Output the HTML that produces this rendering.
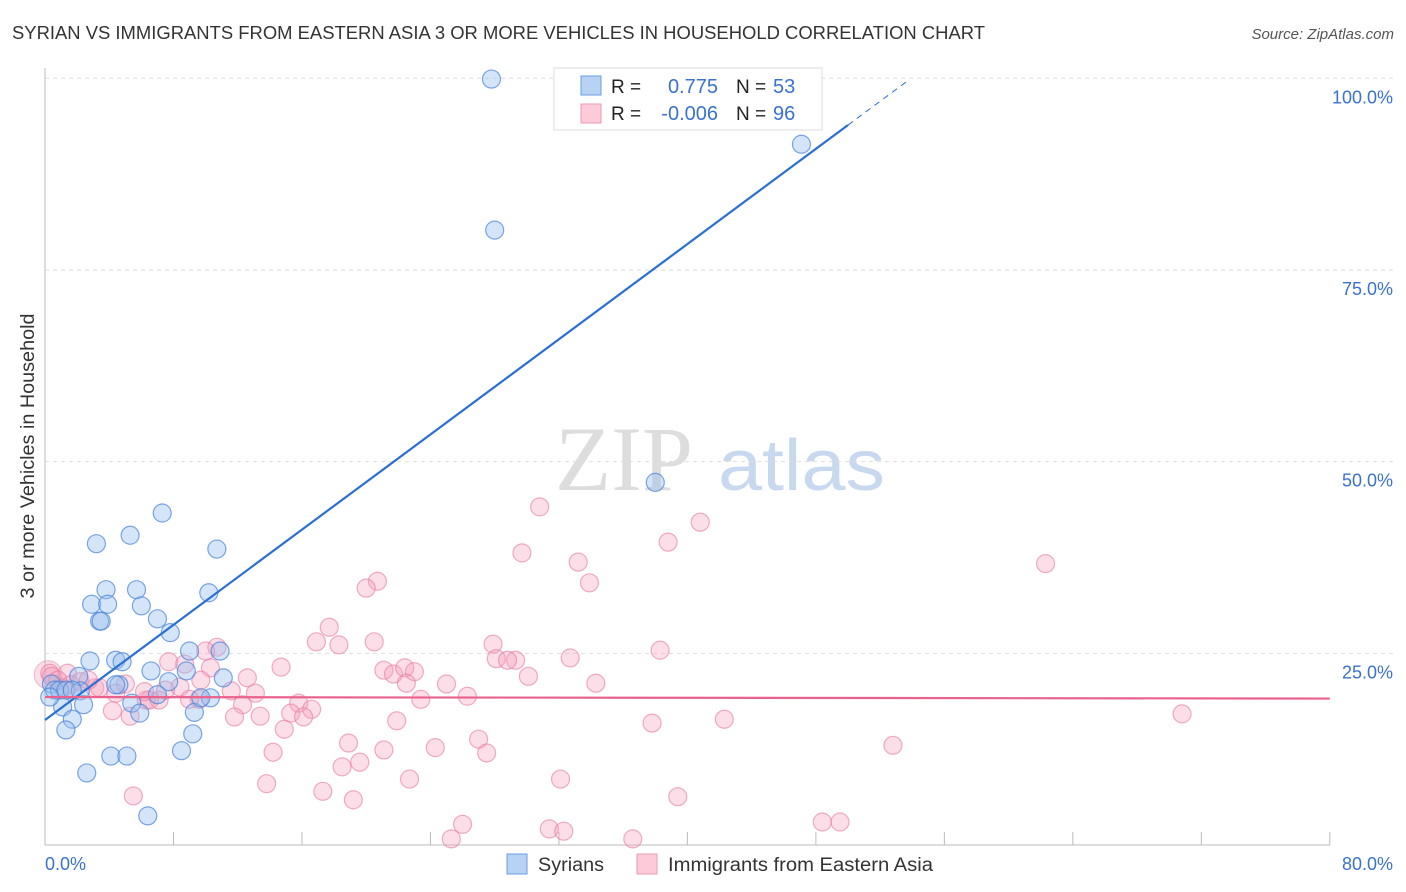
<!DOCTYPE html>
<html><head><meta charset="utf-8"><style>
body{margin:0;background:#fff;font-family:"Liberation Sans",sans-serif;}
#wrap{position:relative;width:1406px;height:892px;overflow:hidden}
</style></head><body>
<div id="wrap">
<svg id="svg" width="1406" height="892">
<text x="12" y="39" font-size="18" fill="#333" textLength="973" lengthAdjust="spacingAndGlyphs">SYRIAN VS IMMIGRANTS FROM EASTERN ASIA 3 OR MORE VEHICLES IN HOUSEHOLD CORRELATION CHART</text>
<text x="1394" y="39" font-size="15" fill="#555" font-style="italic" text-anchor="end">Source: ZipAtlas.com</text>
<text x="34" y="456" font-size="19" fill="#333" text-anchor="middle" transform="rotate(-90 34 456)" textLength="285" lengthAdjust="spacingAndGlyphs">3 or more Vehicles in Household</text>
<text x="555" y="490" font-size="92" fill="#ddd" font-family="Liberation Serif,serif">ZIP</text>
<text x="718" y="490" font-size="72" fill="#c8d8ee" textLength="167" lengthAdjust="spacingAndGlyphs">atlas</text>
<g id="grid"></g><g id="pts"></g><g id="lines"></g>
<text x="45" y="870" font-size="18" fill="#3a72d0" text-anchor="start">0.0%</text>
<text x="1393" y="870" font-size="18" fill="#3a72d0" text-anchor="end">80.0%</text>
<g>
<rect x="554" y="68" width="268" height="62" fill="#fff" stroke="#ddd"/>
<rect x="581" y="76" width="20" height="19" fill="#b8d2f4" stroke="#6a9ee0"/>
<rect x="581" y="104" width="20" height="19" fill="#fccad8" stroke="#ef9ab4"/>
<text x="611" y="93" font-size="19" fill="#222">R =</text><text x="718" y="93" font-size="20" fill="#3a72d0" text-anchor="end">0.775</text>
<text x="736" y="93" font-size="19" fill="#222">N =</text><text x="773" y="93" font-size="20" fill="#3a72d0">53</text>
<text x="611" y="120" font-size="19" fill="#222">R =</text><text x="718" y="120" font-size="20" fill="#3a72d0" text-anchor="end">-0.006</text>
<text x="736" y="120" font-size="19" fill="#222">N =</text><text x="773" y="120" font-size="20" fill="#3a72d0">96</text>
</g>
<g>
<rect x="507" y="854" width="20" height="20" fill="#b8d2f4" stroke="#6a9ee0"/>
<text x="538" y="871" font-size="19" fill="#333" textLength="66" lengthAdjust="spacingAndGlyphs">Syrians</text>
<rect x="637" y="854" width="20" height="20" fill="#fccad8" stroke="#ef9ab4"/>
<text x="668" y="871" font-size="19" fill="#333" textLength="265" lengthAdjust="spacingAndGlyphs">Immigrants from Eastern Asia</text>
</g>
</svg></div>
<script>
const yTicks=[25,50,75,100];
const yTickLabels=["25.0%","50.0%","75.0%","100.0%"];
const xTicks=[0,8,16,24,32,40,48,56,64,72,80];
const blueX=[27.8,47.1,28.0,38.0,7.3,3.2,5.3,10.7,10.2,3.8,5.7,2.9,3.9,6.0,3.4,3.5,7.0,7.8,9.0,10.9,2.8,4.4,4.8,6.6,8.8,2.1,7.7,11.1,4.6,0.4,0.6,0.9,1.3,2.2,4.4,7.0,5.4,10.3,9.3,5.9,1.1,2.4,1.7,1.3,9.2,8.5,4.1,5.1,2.6,6.4,0.3,9.7,1.7];
const blueY=[99.9,91.4,80.2,47.3,43.3,39.3,40.4,38.6,32.9,33.3,33.3,31.4,31.4,31.2,29.2,29.2,29.5,27.7,25.3,25.3,24.0,24.1,23.9,22.7,22.7,22.0,21.3,21.8,20.9,21.0,20.2,20.2,20.2,20.1,20.9,19.6,18.5,19.2,17.3,17.2,18.0,18.3,16.4,15.0,14.5,12.3,11.6,11.6,9.4,3.8,19.3,19.2,20.2];
const pinkX=[30.8,40.8,29.7,38.8,33.2,33.9,62.3,20.7,20.0,17.7,20.5,16.9,18.3,27.9,28.1,29.3,28.8,32.7,38.3,10.7,10.0,7.7,8.7,14.7,12.6,21.1,21.7,22.4,23.0,22.5,30.1,34.3,25.0,10.3,8.4,11.6,13.1,9.6,7.1,6.3,1.4,0.3,2.2,3.1,5.0,3.4,1.1,4.2,5.3,6.5,12.3,15.8,16.6,15.3,11.8,13.4,16.1,14.9,23.4,26.3,21.9,37.8,42.3,70.8,18.9,21.1,14.2,24.3,27.0,27.5,52.8,18.5,19.6,22.7,13.8,17.3,5.5,32.1,39.4,19.2,26.0,25.3,31.4,32.3,36.6,48.4,49.5,0.4,0.8,1.6,2.7,7.5,9.0,6.2,4.4,9.7];
const pinkY=[44.1,42.1,38.1,39.5,36.9,34.2,36.7,34.4,33.5,28.4,26.5,26.5,26.1,26.2,24.3,24.1,24.1,24.4,25.4,25.8,25.3,23.9,23.6,23.2,21.8,22.8,22.3,23.1,22.6,21.1,22.0,21.1,21.0,23.1,20.6,20.1,19.8,19.0,18.9,18.9,22.4,22.4,21.3,20.5,21.0,20.5,20.5,17.5,16.8,18.9,18.3,18.5,17.7,17.2,16.7,16.8,16.7,15.1,19.0,19.4,16.2,15.9,16.4,17.1,13.3,12.4,12.1,12.7,13.8,12.0,13.0,10.2,10.8,8.6,8.0,7.0,6.4,8.6,6.3,5.9,2.7,0.8,2.1,1.8,0.8,3.0,3.0,22.0,21.5,20.9,21.5,20.2,19.0,20.0,19.8,21.5];
const blueFit=[16.3,1.552];
const pinkFit=[19.3,-0.0025];
const X=v=>45+v*16.06, Y=v=>845-v*7.667;
const NS="http://www.w3.org/2000/svg";
function mk(t,a,p){const e=document.createElementNS(NS,t);for(const k in a)e.setAttribute(k,a[k]);p.appendChild(e);return e;}
const grid=document.getElementById('grid');
const ax=mk('line',{x1:45,y1:68,x2:45,y2:845,stroke:'#bbb'},grid);


const bx=mk('line',{x1:45,y1:845,x2:1330,y2:845,stroke:'#bbb'},grid);


yTicks.forEach((t,i)=>{
 const g=mk('line',{x1:45,y1:Y(t),x2:1393,y2:Y(t),stroke:'#ddd','stroke-dasharray':'4,4'},grid);
 
 
 const l=mk('text',{x:1393,y:Y(t)+25,'font-size':18,fill:'#3a72d0','text-anchor':'end'},grid);
 l.textContent=yTickLabels[i];
 
 
});
xTicks.forEach(t=>{
 const l=mk('line',{x1:X(t),y1:832,x2:X(t),y2:845,stroke:'#bbb'},grid);
 
 
});
const pts=document.getElementById('pts');
const big=mk('circle',{cx:X(0.2),cy:Y(22.2),r:14,fill:'rgba(244,160,190,0.35)',stroke:'rgba(232,120,160,0.5)'},pts);


pinkX.forEach((x,i)=>{
 const c=mk('circle',{cx:X(x),cy:Y(pinkY[i]),r:9,fill:'rgba(244,160,190,0.35)',stroke:'rgba(232,120,160,0.6)','stroke-width':1.2},pts);
 
 
});
blueX.forEach((x,i)=>{
 const c=mk('circle',{cx:X(x),cy:Y(blueY[i]),r:9,fill:'rgba(150,190,240,0.4)',stroke:'rgba(70,130,215,0.7)','stroke-width':1.2},pts);
 
 
});
const lines=document.getElementById('lines');
const f=(fit,x)=>fit[0]+fit[1]*x;
const bl=mk('line',{x1:X(0),y1:Y(f(blueFit,0)),x2:X(50),y2:Y(f(blueFit,50)),stroke:'#2a6fd6','stroke-width':2.2},lines);


const bd=mk('line',{x1:X(50),y1:Y(f(blueFit,50)),x2:X(53.7),y2:Y(f(blueFit,53.7)),stroke:'#2a6fd6','stroke-width':1,'stroke-dasharray':'6,5'},lines);


const pl=mk('line',{x1:X(0),y1:Y(f(pinkFit,0)),x2:X(80),y2:Y(f(pinkFit,80)),stroke:'#e8628c','stroke-width':2.2},lines);


</script>
</body></html>
